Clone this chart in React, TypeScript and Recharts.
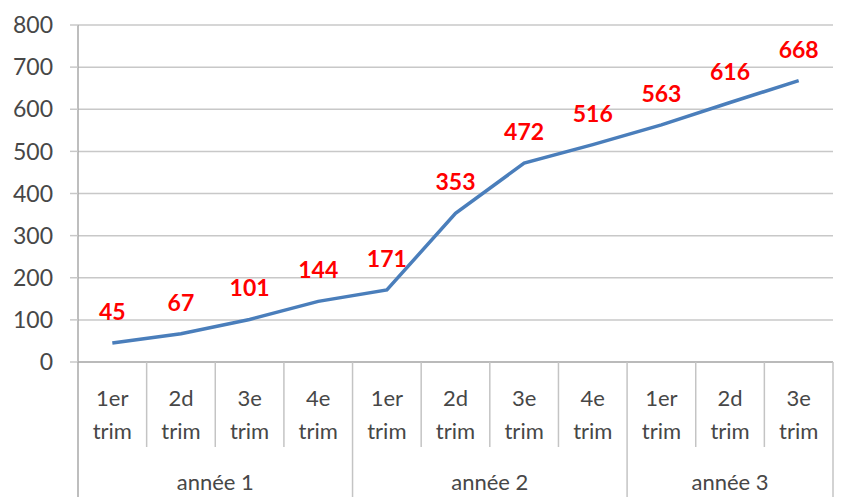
import { LineChart, Line, XAxis, YAxis, CartesianGrid, LabelList } from "recharts";

const quarters = ["1er", "2d", "3e", "4e", "1er", "2d", "3e", "4e", "1er", "2d", "3e"];
const years = ["année 1", "année 1", "année 1", "année 1", "année 2", "année 2", "année 2", "année 2", "année 3", "année 3", "année 3"];
const values = [45, 67, 101, 144, 171, 353, 472, 516, 563, 616, 668];
const yTicks = [0, 100, 200, 300, 400, 500, 600, 700, 800];

const data = quarters.map((q, i) => ({ key: `${years[i]}-${q}`, quarter: q, year: years[i], value: values[i] }));

const W = 858;
const H = 504;
const LEFT = 78;
const RIGHT = 25;
const TOP = 25;
const XH = 142;
const band = (W - LEFT - RIGHT) / quarters.length;
const font = "Lato, 'Open Sans', sans-serif";
const textColor = "#474747";
const sep = "#c4c4c4";

const QuarterTick = (props: any) => {
  const { x, y, index } = props;
  const i = index as number;
  const groupStart = i === 0 || years[i] !== years[i - 1];
  const groupSize = years.filter((yr) => yr === years[i]).length;
  const left = x - band / 2;
  return (
    <g>
      <line
        x1={left}
        x2={left}
        y1={y}
        y2={y + (groupStart ? 135 : 85)}
        stroke={i === 0 ? "#a8a8a8" : sep}
        strokeWidth={1.5}
      />
      {i === quarters.length - 1 && (
        <line x1={x + band / 2} x2={x + band / 2} y1={y} y2={y + 135} stroke={sep} strokeWidth={1.5} />
      )}
      <text x={x} y={y + 35} textAnchor="middle" dominantBaseline="central" fontSize={22} fontFamily={font} fill={textColor}>
        {quarters[i]}
      </text>
      <text x={x} y={y + 68} textAnchor="middle" dominantBaseline="central" fontSize={22} fontFamily={font} fill={textColor}>
        trim
      </text>
      {groupStart && (
        <text
          x={x + ((groupSize - 1) * band) / 2}
          y={y + 119}
          textAnchor="middle"
          dominantBaseline="central"
          fontSize={22}
          fontFamily={font}
          fill={textColor}
        >
          {years[i]}
        </text>
      )}
    </g>
  );
};

const ValueLabel = (props: any) => {
  const { x, y, value } = props;
  return (
    <text x={x} y={y - 32} textAnchor="middle" dominantBaseline="central" fontSize={23} fontWeight="bold" fontFamily={font} fill="#ff0000">
      {value}
    </text>
  );
};

export default function App() {
  return (
    <div style={{ position: "absolute", left: 0, top: 0, width: W, height: H, background: "#fff" }}>
      <LineChart width={W} height={H} data={data} margin={{ top: TOP, right: RIGHT, bottom: 0, left: 0 }}>
        <CartesianGrid vertical={false} stroke="#c8c8c8" strokeWidth={1.5} />
        <XAxis
          dataKey="key"
          height={XH}
          interval={0}
          tickSize={0}
          tickMargin={0}
          padding={{ left: band / 2, right: band / 2 }}
          axisLine={{ stroke: "#b0b0b0", strokeWidth: 1.5 }}
          tickLine={false}
          tick={<QuarterTick />}
        />
        <YAxis
          width={LEFT}
          domain={[0, 800]}
          ticks={yTicks}
          interval={0}
          tickSize={8}
          tickMargin={17}
          axisLine={{ stroke: "#a8a8a8", strokeWidth: 1.5 }}
          tickLine={{ stroke: "#c8c8c8", strokeWidth: 1.5 }}
          tick={{ fontSize: 23, fontFamily: font, fill: textColor }}
        />
        <Line
          type="linear"
          dataKey="value"
          stroke="#4a7ebb"
          strokeWidth={3.5}
          dot={false}
          isAnimationActive={false}
        >
          <LabelList dataKey="value" content={<ValueLabel />} />
        </Line>
      </LineChart>
    </div>
  );
}
